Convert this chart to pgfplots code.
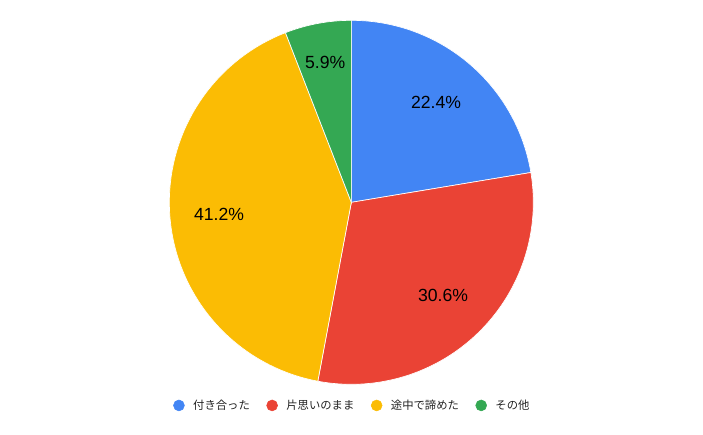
\documentclass[border=0pt]{standalone}
\usepackage{pgfplots}
\pgfplotsset{compat=1.18}
\usepackage{pgfplotstable}
\usepackage{fontspec}
\setmainfont{Liberation Sans}
\newfontfamily\jp{Noto Sans CJK JP}
\definecolor{c1}{HTML}{4285F4}
\definecolor{c2}{HTML}{EA4335}
\definecolor{c3}{HTML}{FBBC04}
\definecolor{c4}{HTML}{34A853}
\definecolor{legtext}{HTML}{222222}
\pgfplotstableread{
value
22.4
30.6
41.2
5.9
}\piedata
\pgfplotstablegetelem{0}{value}\of\piedata \let\vA\pgfplotsretval
\pgfplotstablegetelem{1}{value}\of\piedata \let\vB\pgfplotsretval
\pgfplotstablegetelem{2}{value}\of\piedata \let\vC\pgfplotsretval
\pgfplotstablegetelem{3}{value}\of\piedata \let\vD\pgfplotsretval
\pgfmathsetmacro{\tot}{\vA+\vB+\vC+\vD}
\pgfmathsetmacro{\k}{360/\tot}
\pgfmathsetmacro{\aA}{90}
\pgfmathsetmacro{\aB}{90-\k*\vA}
\pgfmathsetmacro{\aC}{90-\k*(\vA+\vB)}
\pgfmathsetmacro{\aD}{90-\k*(\vA+\vB+\vC)}
\pgfmathsetmacro{\aE}{-270}
\begin{document}
\begin{tikzpicture}
\path[use as bounding box] (0,0) rectangle (527.25pt,326.25pt);
\begin{axis}[
  at={(127pt,38pt)}, anchor=south west,
  scale only axis, width=273pt, height=273pt,
  xmin=-1, xmax=1, ymin=-1, ymax=1,
  hide axis, clip=false,
  legend columns=4,
  legend image code/.code={\fill[#1] (4.1pt,0pt) circle (4.1pt);},
  legend style={at={(0.5,-0.058)}, anchor=center, draw=none, fill=none,
    font=\jp\fontsize{8.5pt}{10pt}\selectfont, text=legtext,
    nodes={inner sep=0pt},
    /tikz/every odd column/.style={column sep=6.4pt},
    /tikz/every even column/.style={column sep=12.4pt}},
]
\addplot[forget plot, fill=c1, draw=white, line width=0.5pt, domain=\aB:\aA, samples=120, variable=\t] ({cos(t)},{sin(t)}) -- (axis cs:0,0) -- cycle;
\addplot[forget plot, fill=c2, draw=white, line width=0.5pt, domain=\aC:\aB, samples=120, variable=\t] ({cos(t)},{sin(t)}) -- (axis cs:0,0) -- cycle;
\addplot[forget plot, fill=c3, draw=white, line width=0.5pt, domain=\aD:\aC, samples=120, variable=\t] ({cos(t)},{sin(t)}) -- (axis cs:0,0) -- cycle;
\addplot[forget plot, fill=c4, draw=white, line width=0.5pt, domain=\aE:\aD, samples=120, variable=\t] ({cos(t)},{sin(t)}) -- (axis cs:0,0) -- cycle;
\pgfmathsetmacro{\mA}{(\aA+\aB)/2}
\pgfmathsetmacro{\mB}{(\aB+\aC)/2}
\pgfmathsetmacro{\mC}{(\aC+\aD)/2}
\pgfmathsetmacro{\mD}{(\aD+\aE)/2}
\node[font=\fontsize{13.2pt}{15pt}\selectfont] at (axis cs:{0.72*cos(\mA)},{0.72*sin(\mA)}) {22.4\%};
\node[font=\fontsize{13.2pt}{15pt}\selectfont] at (axis cs:{0.72*cos(\mB)},{0.72*sin(\mB)}) {30.6\%};
\node[font=\fontsize{13.2pt}{15pt}\selectfont] at (axis cs:{0.73*cos(\mC)},{0.73*sin(\mC)}) {41.2\%};
\node[font=\fontsize{13.2pt}{15pt}\selectfont] at (axis cs:{0.78*cos(\mD)},{0.78*sin(\mD)}) {5.9\%};
\addlegendimage{c1}\addlegendentry{付き合った}
\addlegendimage{c2}\addlegendentry{片思いのまま}
\addlegendimage{c3}\addlegendentry{途中で諦めた}
\addlegendimage{c4}\addlegendentry{その他}
\end{axis}
\end{tikzpicture}
\end{document}
